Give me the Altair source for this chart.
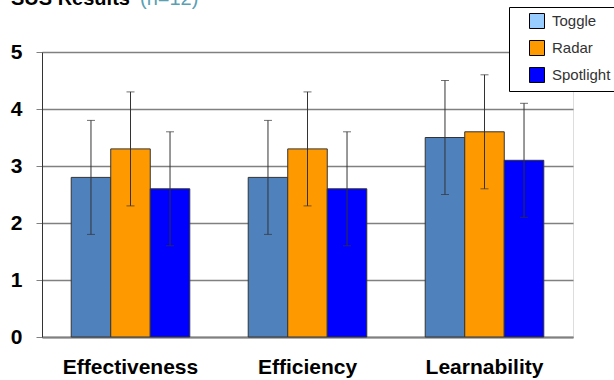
import altair as alt
import pandas as pd

categories = ["Effectiveness", "Efficiency", "Learnability"]
series = ["Toggle", "Radar", "Spotlight"]
means = {
    "Toggle": [2.8, 2.8, 3.5],
    "Radar": [3.3, 3.3, 3.6],
    "Spotlight": [2.6, 2.6, 3.1],
}
errors = {
    "Toggle": [1.0, 1.0, 1.0],
    "Radar": [1.0, 1.0, 1.0],
    "Spotlight": [1.0, 1.0, 1.0],
}
bar_colors = ["#4F81BD", "#FF9900", "#0000FF"]
legend_colors = ["#99CCFF", "#FF9900", "#0000FF"]

rows = []
for s in series:
    for i, c in enumerate(categories):
        m = means[s][i]
        e = errors[s][i]
        rows.append({"cat": c, "series": s, "key": s, "mean": m, "lo": m - e, "hi": m + e})
df = pd.DataFrame(rows)

xenc = alt.X("cat:N", sort=categories, title=None,
             scale=alt.Scale(paddingInner=0.33, paddingOuter=0.165),
             axis=alt.Axis(labelAngle=0, labelFont="Liberation Sans", labelFontSize=21,
                           labelFontWeight="bold", labelColor="#000", labelPadding=19,
                           ticks=False, domainColor="#808080", domainWidth=2))
xoff = alt.XOffset("series:N", sort=series, scale=alt.Scale(paddingInner=0, paddingOuter=0))

base = alt.Chart(df)

bars = base.mark_bar(stroke="#333333", strokeWidth=1).encode(
    x=xenc,
    xOffset=xoff,
    y=alt.Y("mean:Q", title=None,
            scale=alt.Scale(domain=[0, 5], nice=False),
            axis=alt.Axis(values=[0, 1, 2, 3, 4, 5], format="d", labelFont="Liberation Sans",
                          labelFontSize=21, labelFontWeight="bold", labelColor="#000",
                          labelPadding=14, tickSize=6, tickColor="#808080",
                          domainColor="#333333", gridColor="#808080", gridWidth=1.5)),
    color=alt.Color("series:N", sort=series,
                    scale=alt.Scale(domain=series, range=bar_colors), legend=None),
)

rules = base.mark_rule(color="#333333", strokeWidth=1).encode(
    x=alt.X("cat:N", sort=categories), xOffset=xoff,
    y="lo:Q", y2="hi:Q",
)
caps_lo = base.mark_tick(color="#333333", thickness=1, size=8, orient="horizontal").encode(
    x=alt.X("cat:N", sort=categories), xOffset=xoff, y="lo:Q")
caps_hi = base.mark_tick(color="#333333", thickness=1, size=8, orient="horizontal").encode(
    x=alt.X("cat:N", sort=categories), xOffset=xoff, y="hi:Q")

legend_layer = base.mark_square(opacity=0).encode(
    x=alt.X("cat:N", sort=categories), y="mean:Q",
    fill=alt.Fill("key:N", sort=series, title=None,
                  scale=alt.Scale(domain=series, range=legend_colors),
                  legend=alt.Legend(orient="none", legendX=467, legendY=-45,
                                    symbolType="square", symbolSize=225,
                                    symbolStrokeColor="#000", symbolStrokeWidth=1,
                                    symbolOpacity=1, symbolOffset=14,
                                    labelFont="Liberation Sans",
                                    labelFontSize=15, labelColor="#333333",
                                    rowPadding=7, padding=6, labelOffset=7,
                                    strokeColor="#000", fillColor="#ffffff")),
)

title_df = pd.DataFrame({"t": ["SUS Results"]})
sub_df = pd.DataFrame({"t": ["(n=12)"]})
title1 = alt.Chart(title_df).mark_text(
    font="Liberation Sans", fontSize=20, fontWeight="bold", color="#000",
    align="left", baseline="alphabetic").encode(
    text="t:N", x=alt.value(-31), y=alt.value(-47))
title2 = alt.Chart(sub_df).mark_text(
    font="Liberation Sans", fontSize=20, color="#5AA0B4",
    align="left", baseline="alphabetic").encode(
    text="t:N", x=alt.value(98), y=alt.value(-47))

chart = alt.layer(bars, rules, caps_lo, caps_hi, legend_layer, title1, title2).resolve_scale(
    color="independent", fill="independent"
).properties(
    width=531, height=285,
    autosize=alt.AutoSizeParams(type="none"),
    padding={"left": 42, "top": 52, "right": 41, "bottom": 43},
).configure_view(stroke="#808080", strokeWidth=2).configure(background="white")

chart.save("out.html", embed_options={"renderer": "svg", "actions": False})
